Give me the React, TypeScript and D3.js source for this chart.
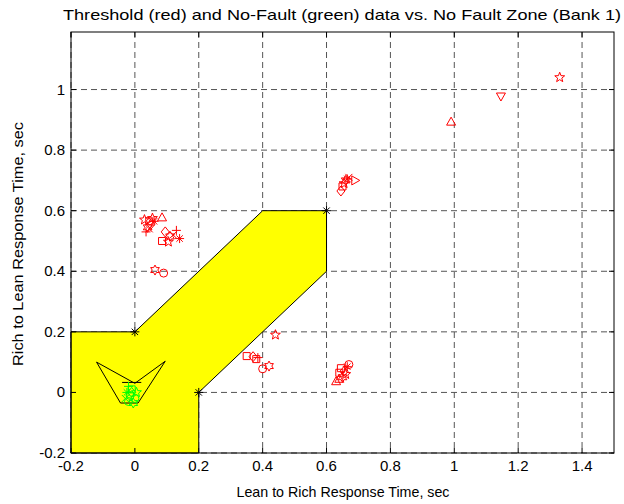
import React from "react";
import * as d3 from "d3";

const W = 624, H = 504;
const M = { left: 71, right: 614, top: 32, bottom: 453 };

const xTicks = [-0.2, 0, 0.2, 0.4, 0.6, 0.8, 1, 1.2, 1.4];
const yTicks = [-0.2, 0, 0.2, 0.4, 0.6, 0.8, 1];

const zoneX = [-0.2, -0.2, 0, 0.4, 0.6, 0.6, 0.2, 0.2];
const zoneY = [-0.2, 0.2, 0.2, 0.6, 0.6, 0.4, 0, -0.2];

const cornerX = [0, 0.6, 0.2];
const cornerY = [0.2, 0.6, 0];

const vX = [-0.12, 0.0, 0.095, 0.01, -0.045, -0.12];
const vY = [0.1, 0.03, 0.103, -0.035, -0.035, 0.1];
const barX = [-0.04, 0.02];
const barY = [0.033, 0.033];

const redX = [0.03, 0.045, 0.05, 0.04, 0.055, 0.035, 0.06, 0.045, 0.085,
  0.095, 0.085, 0.13, 0.14, 0.105, 0.11, 0.12, 0.063, 0.09,
  0.35, 0.37, 0.38, 0.385, 0.40, 0.42, 0.44,
  0.67, 0.645, 0.655, 0.66, 0.64, 0.63, 0.65, 0.665, 0.64,
  0.645, 0.65, 0.655, 0.66, 0.665, 0.69, 0.67,
  1.33, 1.146, 0.99];
const redY = [0.57, 0.565, 0.555, 0.545, 0.575, 0.53, 0.565, 0.54, 0.578,
  0.53, 0.50, 0.535, 0.508, 0.497, 0.515, 0.52, 0.404, 0.394,
  0.12, 0.118, 0.11, 0.115, 0.078, 0.087, 0.19,
  0.092, 0.08, 0.07, 0.06, 0.045, 0.037, 0.05, 0.085, 0.065,
  0.665, 0.68, 0.69, 0.70, 0.705, 0.70, 0.71,
  1.04, 0.977, 0.894];
const redShape = ["p", "s", "d", "h", "p", "+", "*", "x", "^",
  "d", "s", "+", "*", "p", "h", "x", "h", "o",
  "s", "d", "s", "+", "o", "h", "p",
  "o", "s", "d", "p", "^", "^", "h", "*", "s",
  "d", "s", "p", "h", "*", ">", "x",
  "p", "v", "^"];

const greenX = [-0.02, -0.01, -0.015, -0.02, 0.0, -0.025, -0.005, -0.01, -0.03, 0.005];
const greenY = [0.02, 0.01, -0.01, -0.03, -0.02, 0.0, -0.035, 0.0, -0.02, 0.0];
const greenShape = ["+", "s", "o", "o", "o", "*", "h", "d", "x", "p"];

function star(n: number, ro: number, ri: number) {
  const pts: string[] = [];
  for (let i = 0; i < 2 * n; i++) {
    const r = i % 2 === 0 ? ro : ri;
    const a = -Math.PI / 2 + (i * Math.PI) / n;
    pts.push(`${(r * Math.cos(a)).toFixed(2)},${(r * Math.sin(a)).toFixed(2)}`);
  }
  return "M" + pts.join("L") + "Z";
}

function markerPath(s: string): string {
  const r = 4;
  switch (s) {
    case "o": return `M${r},0A${r},${r} 0 1,1 ${-r},0A${r},${r} 0 1,1 ${r},0Z`;
    case "s": return `M-3.5,-3.5H3.5V3.5H-3.5Z`;
    case "d": return `M0,-5L4,0L0,5L-4,0Z`;
    case "^": return `M0,-4.5L4.5,3.5L-4.5,3.5Z`;
    case "v": return `M0,4.5L4.5,-3.5L-4.5,-3.5Z`;
    case ">": return `M4.5,0L-3.5,4.5L-3.5,-4.5Z`;
    case "<": return `M-4.5,0L3.5,4.5L3.5,-4.5Z`;
    case "p": return star(5, 5.2, 2.2);
    case "h": return star(6, 5, 2.8);
    case "+": return `M-4.5,0H4.5M0,-4.5V4.5`;
    case "x": return `M-3.5,-3.5L3.5,3.5M-3.5,3.5L3.5,-3.5`;
    case "*": return `M-4.5,0H4.5M0,-4.5V4.5M-3.2,-3.2L3.2,3.2M-3.2,3.2L3.2,-3.2`;
    default: return "";
  }
}

export default function App() {
  const x = d3.scaleLinear().domain([-0.2, 1.5]).range([M.left, M.right]);
  const y = d3.scaleLinear().domain([-0.2, 1.19]).range([M.bottom, M.top]);
  const line = d3.line<[number, number]>().x((d) => x(d[0])).y((d) => y(d[1]));
  const zone = zoneX.map((v, i) => [v, zoneY[i]] as [number, number]);
  const vshape = vX.map((v, i) => [v, vY[i]] as [number, number]);
  const bar = barX.map((v, i) => [v, barY[i]] as [number, number]);
  const font = "'Liberation Sans', Arial, Helvetica, sans-serif";
  const gridC = "#555";
  const tl = 5;

  return (
    <svg width={W} height={H} style={{ position: "absolute", left: 0, top: 0, background: "#fff" }} fontFamily={font}>
      <rect x={0} y={0} width={W} height={H} fill="#fff" />
      {/* grid */}
      {xTicks.map((t) => (
        <line key={"gx" + t} x1={x(t)} x2={x(t)} y1={M.top} y2={M.bottom} stroke={gridC} strokeDasharray="6,4" strokeWidth={1} />
      ))}
      {yTicks.map((t) => (
        <line key={"gy" + t} x1={M.left} x2={M.right} y1={y(t)} y2={y(t)} stroke={gridC} strokeDasharray="6,4" strokeWidth={1} />
      ))}
      {/* zone */}
      <path d={line(zone)! + "Z"} fill="#ffff00" stroke="#000" strokeWidth={1} />
      {cornerX.map((v, i) => (
        <path key={"c" + i} d={markerPath("*")} transform={`translate(${x(v)},${y(cornerY[i])})`} stroke="#000" fill="none" strokeWidth={1} />
      ))}
      <path d={line(vshape)!} fill="none" stroke="#000" strokeWidth={1} />
      <path d={line(bar)!} fill="none" stroke="#000" strokeWidth={1} />
      {/* red data */}
      {redX.map((v, i) => (
        <path key={"r" + i} d={markerPath(redShape[i])} transform={`translate(${x(v)},${y(redY[i])})`} stroke="#ff0000" fill="none" strokeWidth={1} />
      ))}
      {greenX.map((v, i) => (
        <path key={"g" + i} d={markerPath(greenShape[i])} transform={`translate(${x(v)},${y(greenY[i])})`} stroke="#00ff00" fill="none" strokeWidth={1} />
      ))}
      {/* box */}
      <rect x={M.left} y={M.top} width={M.right - M.left} height={M.bottom - M.top} fill="none" stroke="#000" strokeWidth={1} />
      {xTicks.map((t) => (
        <g key={"tx" + t}>
          <line x1={x(t)} x2={x(t)} y1={M.bottom} y2={M.bottom - tl} stroke="#000" />
          <line x1={x(t)} x2={x(t)} y1={M.top} y2={M.top + tl} stroke="#000" />
          <text x={x(t)} y={M.bottom + 18} textAnchor="middle" fontSize={15} fill="#000">{String(t)}</text>
        </g>
      ))}
      {yTicks.map((t) => (
        <g key={"ty" + t}>
          <line x1={M.left} x2={M.left + tl} y1={y(t)} y2={y(t)} stroke="#000" />
          <line x1={M.right} x2={M.right - tl} y1={y(t)} y2={y(t)} stroke="#000" />
          <text x={M.left - 6} y={y(t) + 5} textAnchor="end" fontSize={15} fill="#000">{String(t)}</text>
        </g>
      ))}
      <text x={342} y={20} textAnchor="middle" fontSize={15} fill="#000" textLength={558} lengthAdjust="spacingAndGlyphs">
        Threshold (red) and No-Fault (green) data vs. No Fault Zone (Bank 1)
      </text>
      <text x={343} y={497} textAnchor="middle" fontSize={15} fill="#000" textLength={213} lengthAdjust="spacingAndGlyphs">
        Lean to Rich Response Time, sec
      </text>
      <text transform={`translate(23,${244}) rotate(-90)`} textAnchor="middle" fontSize={15} fill="#000" textLength={244} lengthAdjust="spacingAndGlyphs">
        Rich to Lean Response Time, sec
      </text>
    </svg>
  );
}
